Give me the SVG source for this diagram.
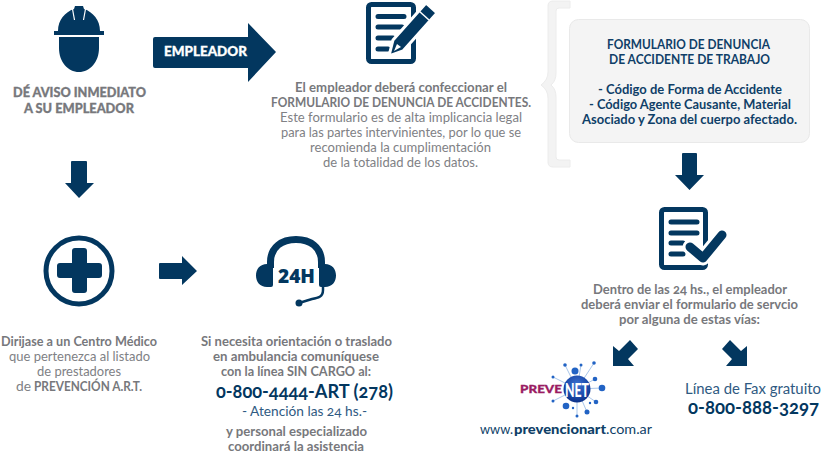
<svg xmlns="http://www.w3.org/2000/svg" width="821" height="453" viewBox="0 0 821 453">
<defs>
<radialGradient id="sphere" cx="50%" cy="35%" r="70%"><stop offset="0" stop-color="#3f74d2"/><stop offset="0.6" stop-color="#1a49aa"/><stop offset="1" stop-color="#0b2c80"/></radialGradient>
</defs>
<style>
text{font-family:Lato,"Open Sans","Liberation Sans",sans-serif;font-size:12.500px;fill:#808185;font-variant-numeric:oldstyle-nums}
.b{font-weight:700;fill:#77787c}
.h{font-weight:900;fill:#77787c;font-size:13px;stroke:#77787c;stroke-width:.3}
.n{font-weight:700;fill:#0f3f68}
.t{fill:#2f5a82}
.a{fill:#03375f}
.s{fill:none;stroke:#03375f}
.l{fill:none;stroke:#03375f;stroke-width:5;stroke-linecap:round}
.net line{stroke:#a9c6ea;stroke-width:1}
.net circle{fill:#2263c4}
</style>
<rect width="821" height="453" fill="#fff"/>
<g id="connectors">
<path class="a" d="M155 37H248V23L276 52 248 82V68H155Q153 68 153 66V39Q153 37 155 37Z"/>
<path class="a" d="M72 161H86Q87 161 87 162V183H94L79 198 65 183H71V162Q71 161 72 161Z"/>
<path class="a" d="M160 263H182V256L197 271 182 285V279H160Q159 279 159 278V264Q159 263 160 263Z"/>
<path class="a" d="M683 153H696Q697 153 697 154V175H704L689.500 190 675 175H682V154Q682 153 683 153Z"/>
<path class="a" d="M630 340 638 349 628 359 634 366H613V346L619 351Z"/>
<path class="a" d="M730 340 722 349 732 359 726 366H747V346L741 351Z"/>
</g>
<g id="brace"><path d="M570 1H553Q548 1 548 6V72Q548 80 541 85 548 90 548 98V162Q548 167 553 167H570V160H559Q556 160 556 157V97Q556 89 551 85 556 81 556 73V11Q556 8 559 8H570Z" fill="#f3f3f3" stroke="#ececec"/></g>
<g id="worker">
<path class="a" d="M58 31C58 20 65 12 74 9L75 6H83L84 9C93 12 100 20 100 31ZM54 31H104V35H54ZM59 37H99V48C99 62 90 72 79 72 68 72 59 62 59 48Z"/>
<path d="M72.500 9 74.500 20M85.500 9 83.500 20" stroke="#fff" stroke-width="1.200"/>
<text class="h" x="13" y="97" textLength="133" lengthAdjust="spacingAndGlyphs">DÉ AVISO INMEDIATO</text>
<text class="h" x="24" y="113" textLength="110" lengthAdjust="spacingAndGlyphs">A SU EMPLEADOR</text>
</g>
<g id="empleador-label"><text x="164" y="56" textLength="83" lengthAdjust="spacingAndGlyphs" style="font-weight:900;fill:#fff;font-size:13px;stroke:#fff;stroke-width:.3">EMPLEADOR</text></g>
<g id="form">
<rect class="s" x="368.500" y="4.500" width="45" height="57" rx="3" stroke-width="5"/>
<path class="l" d="M378 16.500H404M378 27H402M378 38H393M378 49H388"/>
<path class="a" stroke="#fff" stroke-width="3" d="M426 3 437 13 403 51 389 56 393 40Z"/>
<path d="M419 11 429 20" stroke="#fff" stroke-width="1.500"/>
<path d="M394 51 397 44 401 47Z" fill="#fff"/>
<text class="b" x="295" y="92" textLength="212" lengthAdjust="spacingAndGlyphs">El empleador deberá confeccionar el</text>
<text class="b" x="271" y="107" textLength="260" lengthAdjust="spacingAndGlyphs">FORMULARIO DE DENUNCIA DE ACCIDENTES.</text>
<text x="280" y="122" textLength="242" lengthAdjust="spacingAndGlyphs">Este formulario es de alta implicancia legal</text>
<text x="281" y="137" textLength="240" lengthAdjust="spacingAndGlyphs">para las partes intervinientes, por lo que se</text>
<text x="310" y="152" textLength="181" lengthAdjust="spacingAndGlyphs">recomienda la cumplimentación</text>
<text x="323" y="167" textLength="155" lengthAdjust="spacingAndGlyphs">de la totalidad de los datos.</text>
</g>
<g id="form-box">
<rect x="569.500" y="19.500" width="240" height="123" rx="9" fill="#f4f4f4" stroke="#e9e9e9"/>
<text class="n" x="607" y="49" textLength="163" lengthAdjust="spacingAndGlyphs">FORMULARIO DE DENUNCIA</text>
<text class="n" x="609" y="64" textLength="161" lengthAdjust="spacingAndGlyphs">DE ACCIDENTE DE TRABAJO</text>
<text class="n" x="598" y="94" textLength="184" lengthAdjust="spacingAndGlyphs">- Código de Forma de Accidente</text>
<text class="n" x="589" y="109" textLength="202" lengthAdjust="spacingAndGlyphs">- Código Agente Causante, Material</text>
<text class="n" x="582" y="124" textLength="215" lengthAdjust="spacingAndGlyphs">Asociado y Zona del cuerpo afectado.</text>
</g>
<g id="medical">
<circle class="s" cx="79" cy="271" r="33" stroke-width="5"/>
<path class="a" d="M75 248H84Q87 248 87 251V263H99Q102 263 102 266V275Q102 278 99 278H87V290Q87 293 84 293H75Q72 293 72 290V278H60Q57 278 57 275V266Q57 263 60 263H72V251Q72 248 75 248Z"/>
<text class="b" x="1" y="346" textLength="156" lengthAdjust="spacingAndGlyphs">Dirijase a un Centro Médico</text>
<text x="9" y="361" textLength="141" lengthAdjust="spacingAndGlyphs">que pertenezca al listado</text>
<text x="37" y="376" textLength="84" lengthAdjust="spacingAndGlyphs">de prestadores</text>
<text x="16" y="391" textLength="15" lengthAdjust="spacingAndGlyphs">de</text>
<text class="b" x="34" y="391" textLength="108" lengthAdjust="spacingAndGlyphs">PREVENCIÓN A.R.T.</text>
</g>
<g id="helpline">
<path class="s" stroke-width="7" d="M270.500 268V262C270.500 247 282 239.500 296 239.500S321.500 247 321.500 262V268"/>
<path class="a" d="M267 264H271Q273 264 273 266V285Q273 287 271 287H267C260 287 256 282 256 275.500S260 264 267 264ZM325 264H321Q319 264 319 266V285Q319 287 321 287H325C332 287 336 282 336 275.500S332 264 325 264Z"/>
<path class="s" stroke-width="2.500" d="M323 285V290C323 297 318 298 312 299L299 303"/>
<circle class="a" cx="299" cy="303" r="3.500"/>
<text x="278" y="283" textLength="37" lengthAdjust="spacingAndGlyphs" style="font-family:'Open Sans',sans-serif;font-weight:800;font-size:20px;fill:#03375f;font-variant-numeric:normal">24H</text>
<text class="b" x="201" y="346" textLength="191" lengthAdjust="spacingAndGlyphs">Si necesita orientación o traslado</text>
<text class="b" x="213" y="361" textLength="166" lengthAdjust="spacingAndGlyphs">en ambulancia comuníquese</text>
<text class="b" x="221" y="376" textLength="150" lengthAdjust="spacingAndGlyphs">con la línea SIN CARGO al:</text>
<text class="n" x="216" y="398" textLength="177" lengthAdjust="spacingAndGlyphs" style="font-size:18px;fill:#03375f">0-800-4444-ART (278)</text>
<text class="t" x="242" y="416" textLength="125" lengthAdjust="spacingAndGlyphs">- Atención las 24 hs.-</text>
<text class="b" x="226" y="436" textLength="141" lengthAdjust="spacingAndGlyphs">y personal especializado</text>
<text class="b" x="228" y="451" textLength="136" lengthAdjust="spacingAndGlyphs">coordinará la asistencia</text>
</g>
<g id="checklist">
<rect class="s" x="661.500" y="209.500" width="44" height="58" rx="3" stroke-width="5"/>
<path class="l" d="M671 222H697M671 233H697M671 243H683M671 254H683"/>
<path d="M690 247 703 258 722 235" fill="none" stroke="#fff" stroke-width="15" stroke-linecap="round" stroke-linejoin="round"/>
<path d="M690 247 703 258 722 235" class="s" stroke-width="9" stroke-linecap="round" stroke-linejoin="round"/>
<text class="b" x="593" y="294" textLength="194" lengthAdjust="spacingAndGlyphs">Dentro de las 24 hs., el empleador</text>
<text class="b" x="581" y="309" textLength="217" lengthAdjust="spacingAndGlyphs">deberá enviar el formulario de servcio</text>
<text class="b" x="619" y="324" textLength="141" lengthAdjust="spacingAndGlyphs">por alguna de estas vías:</text>
</g>
<g id="prevenet">
<g class="net">
<line x1="577" y1="389" x2="565" y2="365"/><line x1="577" y1="389" x2="581" y2="365"/><line x1="577" y1="389" x2="594" y2="363"/><line x1="577" y1="389" x2="553" y2="377"/><line x1="577" y1="389" x2="595" y2="379"/><line x1="577" y1="389" x2="602" y2="388"/><line x1="577" y1="389" x2="553" y2="401"/><line x1="577" y1="389" x2="596" y2="402"/><line x1="577" y1="389" x2="587" y2="412"/><line x1="577" y1="389" x2="577" y2="416"/>
<circle cx="565" cy="365" r="1.800"/><circle cx="581" cy="365" r="1.500"/><circle cx="594" cy="363" r="1.800"/><circle cx="575" cy="371" r="3.500"/><circle cx="553" cy="377" r="1.500"/><circle cx="595" cy="379" r="2.300"/><circle cx="602" cy="388" r="3.300"/><circle cx="553" cy="401" r="1.500"/><circle cx="566" cy="406" r="3.300"/><circle cx="596" cy="402" r="2.300"/><circle cx="590" cy="403" r="1.200"/><circle cx="587" cy="412" r="2.500"/><circle cx="577" cy="416" r="1.500"/><circle cx="573" cy="408" r="1.200"/>
</g>
<circle cx="577" cy="389" r="13.500" fill="url(#sphere)"/>
<text x="520" y="393" textLength="42" lengthAdjust="spacingAndGlyphs" style="font-weight:900;font-size:12px;fill:#9a1c63;stroke:#9a1c63;stroke-width:.3">PREVE</text>
<text x="565" y="397" textLength="24" lengthAdjust="spacingAndGlyphs" style="font-weight:900;font-size:19px;fill:#fff">NET</text>
<text class="t" x="480" y="434" textLength="33" lengthAdjust="spacingAndGlyphs" style="font-size:13px;fill:#0f3f68">www.</text>
<text class="n" x="514" y="434" textLength="92" lengthAdjust="spacingAndGlyphs" style="font-size:13px;font-weight:900">prevencionart</text>
<text class="t" x="606" y="434" textLength="46" lengthAdjust="spacingAndGlyphs" style="font-size:13px;fill:#0f3f68">.com.ar</text>
</g>
<g id="fax">
<text class="t" x="685" y="394" textLength="136" lengthAdjust="spacingAndGlyphs" style="font-size:14.500px">Línea de Fax gratuito</text>
<text class="n" x="688" y="414" textLength="131" lengthAdjust="spacingAndGlyphs" style="font-size:18px;fill:#03375f">0-800-888-3297</text>
</g>
</svg>
